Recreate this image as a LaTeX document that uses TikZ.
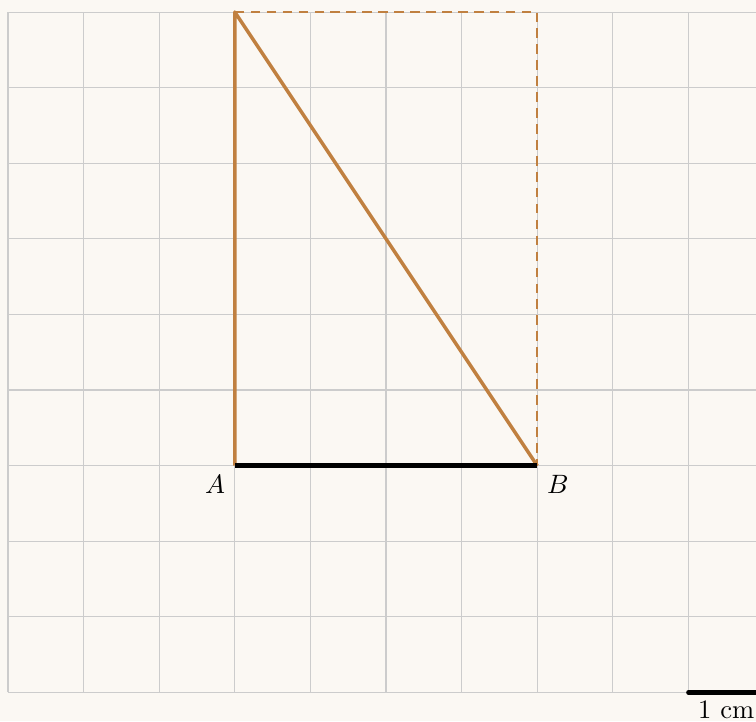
\documentclass[tikz,border=0pt]{standalone}
\begin{document}
\begin{tikzpicture}[x=1cm,y=1cm,
  gridline/.style={draw=black!20,line width=0.4pt},
  side/.style={draw=ocre,line width=1.3pt,line join=round},
  base/.style={draw=black,line width=1.7pt},
  guide/.style={draw=ocre,line width=0.9pt,dash pattern=on 3.6pt off 2.4pt},
  lab/.style={inner sep=3.5pt}]
\definecolor{ocre}{RGB}{192,128,64}
\definecolor{paper}{RGB}{251,248,243}
\fill[paper] (-0.106,-0.384) rectangle (9.894,9.159);
\useasboundingbox (-0.106,-0.384) rectangle (9.894,9.159);
\draw[gridline] (0,0) grid (10,9);
\coordinate (A) at (3,3);
\coordinate (B) at (7,3);
\coordinate (C) at (3,9);
\coordinate (D) at (7,9);
\draw[guide] (C) -- (D) -- (B);
\draw[side] (A) -- (C) -- (B);
\draw[base] (A) -- (B);
\node[lab,anchor=north east] (la) at (A) {$A$};
\node[lab,anchor=north west] (lb) at (B) {$B$};
\coordinate (s0) at (9,0);
\coordinate (s1) at (10,0);
\draw[base,line cap=round] (s0) -- (s1);
\node[anchor=north,inner sep=3pt] (sl) at (9.5,0) {1 cm};
\end{tikzpicture}
\end{document}
